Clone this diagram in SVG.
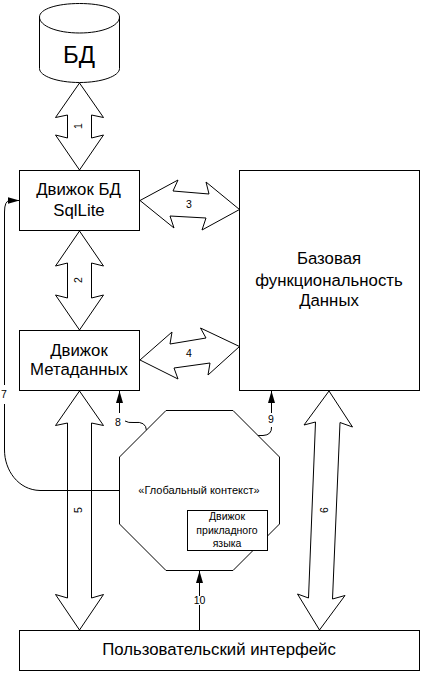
<svg xmlns="http://www.w3.org/2000/svg" width="425" height="677" viewBox="0 0 425 677">
<defs>
<style>
.s{fill:#fff;stroke:#000;stroke-width:1}
.l{fill:none;stroke:#000;stroke-width:1}
text{font-family:"Liberation Sans",Arial,sans-serif;fill:#000;text-anchor:middle}
.t16{font-size:16.800px}
.t10{font-size:10.500px}
.t9{font-size:11px}
</style>
<marker id="ah" markerUnits="userSpaceOnUse" markerWidth="12" markerHeight="8" refX="12" refY="4" orient="auto"><path d="M0 0.500L12 4L0 7.500Z" fill="#000"/></marker>
</defs>
<rect width="425" height="677" fill="#fff"/>
<g id="connectors">
<path class="s" d="M79.500 83L103.500 117.500L91.500 115V138L103.500 135L79.500 170L55.500 135L67.500 138V115L55.500 117.500Z"/>
<path class="s" d="M79.500 231L103.500 266L91.500 263V298L103.500 295L79.500 330L55.500 295L67.500 298V263L55.500 266Z"/>
<path class="s" d="M79.500 391L103.500 425.500L91.500 423V598L103.500 594.500L79.500 630L55.500 594.500L67.500 598V423L55.500 425.500Z"/>
<path class="s" d="M140 200.500L178 180L173 191L209 194L206 182L239.500 209.500L202 230L206 218L170 216L174 228Z"/>
<path class="s" d="M140 360L172 332L170 344L206 338L200.500 328L239.500 346.500L208 375L210 363L174 368L178 379Z"/>
<path class="s" d="M329 391L352.500 427L340 422.500L332.500 599L345 595.500L319.500 630L297.500 594L308.500 598L315.500 422L304 425Z"/>
<path class="l" d="M119.500 490.500H40C18 490 4.500 470 4.500 450V404M4.500 385V212Q4.500 200.500 10 200.500H19.500" marker-end="url(#ah)"/>
<path class="l" d="M119.500 413V391" marker-end="url(#ah)"/>
<path class="l" d="M125 421Q128 423 134 422.500Q146 421 146.500 430.500"/>
<path class="l" d="M271.500 413V391" marker-end="url(#ah)"/>
<path class="l" d="M271.500 427Q272 435 263 435.500H257"/>
<path class="l" d="M199.500 596V571" marker-end="url(#ah)"/>
<path class="l" d="M199.500 605V630"/>
</g>
<g id="db">
<path class="s" d="M39.500 17C39.500 9 57 3.500 79.500 3.500S119.500 9 119.500 17V68.500C119.500 76 102 82.500 79.500 82.500S39.500 76 39.500 68.500Z"/>
<path class="l" d="M39.500 17C39.500 26 57 33 79.500 33S119.500 26 119.500 17"/>
<text x="79" y="63" font-size="24">БД</text>
</g>
<g id="sqlite"><rect class="s" x="19.500" y="170.500" width="120" height="60"/>
<text class="t16" x="78.500" y="195">Движок БД</text><text class="t16" x="79" y="216">SqlLite</text></g>
<g id="meta"><rect class="s" x="19.500" y="330.500" width="120" height="60"/>
<text class="t16" x="79" y="356">Движок</text><text class="t16" x="79" y="375">Метаданных</text></g>
<g id="base"><rect class="s" x="239.500" y="170.500" width="180" height="220"/>
<text class="t16" x="329" y="264">Базовая</text><text class="t16" x="329" y="286">функциональность</text><text class="t16" x="329" y="306">Данных</text></g>
<g id="ui"><rect class="s" x="19.500" y="630.500" width="400" height="40"/>
<text class="t16" x="219" y="655">Пользовательский интерфейс</text></g>
<g id="global"><path class="s" d="M166 410.500H233L279.500 457V524L233 570.500H166L119.500 524V457Z"/>
<text class="t9" x="199" y="493.500">«Глобальный контекст»</text></g>
<g id="lang"><rect class="s" x="187.500" y="510.500" width="80" height="40"/>
<text class="t10" x="227" y="520">Движок</text><text class="t10" x="227" y="534">прикладного</text><text class="t10" x="227" y="547">языка</text></g>
<g id="labels">
<text class="t10" transform="translate(82,126) rotate(-90)">1</text>
<text class="t10" transform="translate(82,280) rotate(-90)">2</text>
<text class="t10" x="189" y="207.500">3</text>
<text class="t10" x="189" y="357">4</text>
<text class="t10" transform="translate(82,510) rotate(-90)">5</text>
<text class="t10" transform="translate(328,510) rotate(-90)">6</text>
<text class="t10" x="4" y="398">7</text>
<text class="t10" x="118" y="426">8</text>
<text class="t10" x="271" y="423">9</text>
<text class="t10" x="199.500" y="604">10</text>
</g>
</svg>
